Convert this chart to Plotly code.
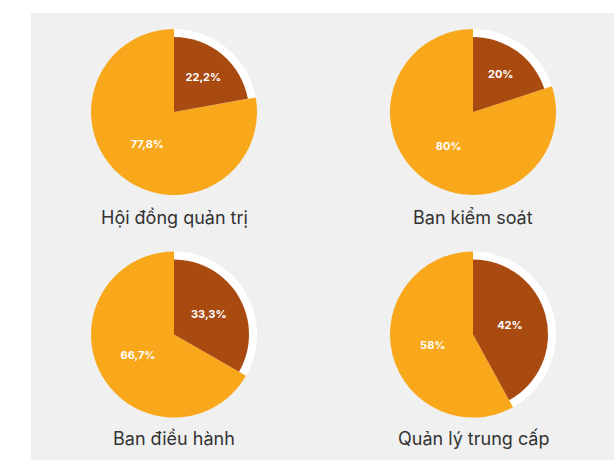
import plotly.graph_objects as go

# Share of the two groups in each governance body
groups = ["Hội đồng quản trị", "Ban kiểm soát", "Ban điều hành", "Quản lý trung cấp"]
minor_share = [22.2, 20, 33.3, 42]
major_share = [77.8, 80, 66.7, 58]

W, H = 614, 460
BROWN = "#A94A11"
ORANGE = "#F9A71B"
PANEL = "#F0F0F0"

# pixel centres of each pie, outer radius and the inset radius of the small slice
centers = [(174, 112), (473, 112), (174, 334.5), (473, 334.5)]
r_outer, r_inner = 83, 75
title_y = [217, 217, 438, 438]


def fmt(v):
    return f"{v:g}".replace(".", ",") + "%"


def domain(cx, cy, r):
    return dict(x=[(cx - r) / W, (cx + r) / W],
                y=[1 - (cy + r) / H, 1 - (cy - r) / H])


fig = go.Figure()
for i, name in enumerate(groups):
    cx, cy = centers[i]
    vals = [minor_share[i], major_share[i]]
    # full-size pie: white backing for the small slice, orange for the large one
    fig.add_trace(go.Pie(
        values=vals, sort=False, direction="clockwise", rotation=0,
        domain=domain(cx, cy, r_outer),
        marker=dict(colors=["#FFFFFF", ORANGE], line=dict(width=0)),
        text=["", fmt(major_share[i])], textinfo="text",
        textposition="inside", insidetextorientation="horizontal",
        textfont=dict(family="Inter", size=11, color="white", weight="bold"),
        hoverinfo="skip", showlegend=False,
    ))
    # inset pie carrying the small slice in brown
    fig.add_trace(go.Pie(
        values=vals, sort=False, direction="clockwise", rotation=0,
        domain=domain(cx, cy, r_inner),
        marker=dict(colors=[BROWN, "rgba(0,0,0,0)"], line=dict(width=0)),
        text=[fmt(minor_share[i]), ""], textinfo="text",
        textposition="inside", insidetextorientation="horizontal",
        textfont=dict(family="Inter", size=11, color="white", weight="bold"),
        hoverinfo="skip", showlegend=False,
    ))
    fig.add_annotation(
        x=cx / W, y=1 - title_y[i] / H, xref="paper", yref="paper",
        text=name, showarrow=False, xanchor="center", yanchor="middle",
        font=dict(family="Inter", size=18, color="#333333"),
    )

# light grey panel behind the pies
fig.add_shape(type="rect", xref="paper", yref="paper",
              x0=31 / W, x1=1, y0=0, y1=1 - 13 / H,
              fillcolor=PANEL, line=dict(width=0), layer="below")

fig.update_layout(
    width=W, height=H,
    margin=dict(l=0, r=0, t=0, b=0),
    paper_bgcolor="white", plot_bgcolor="white",
)

fig.write_html("out.html")
